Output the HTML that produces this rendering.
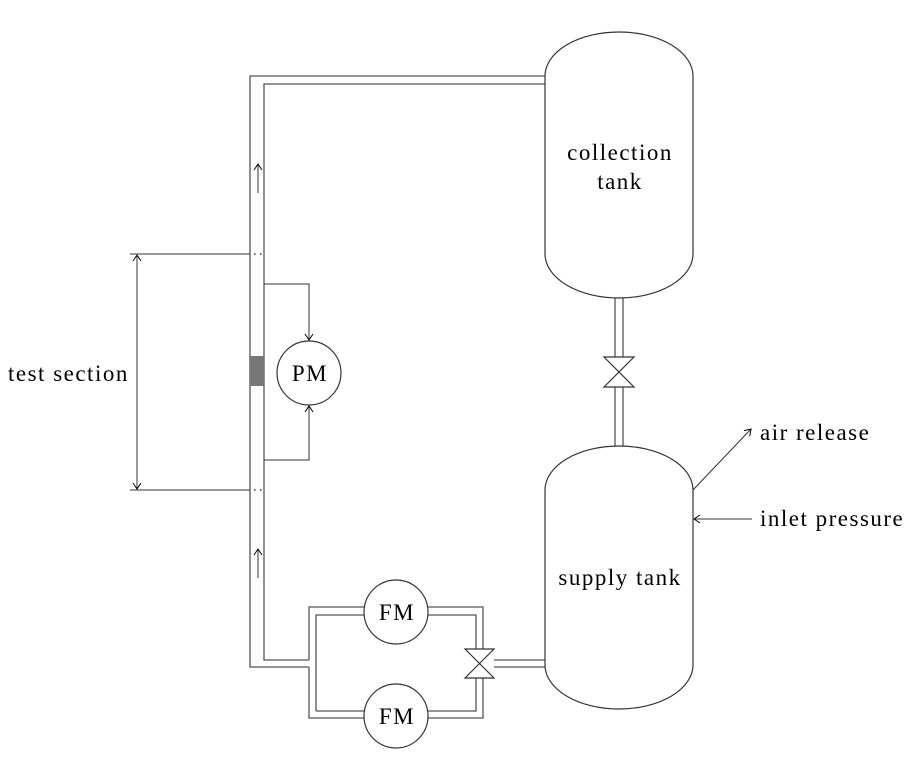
<!DOCTYPE html>
<html><head><meta charset="utf-8"><style>body{margin:0;background:#fff}svg{display:block}text{font-family:"Liberation Serif",serif;font-size:23px;letter-spacing:1.5px;fill:#000}</style></head>
<body>
<svg width="918" height="763" viewBox="0 0 918 763" xmlns="http://www.w3.org/2000/svg">
<defs><marker id="a" markerWidth="10" markerHeight="10" refX="8" refY="5" orient="auto" markerUnits="userSpaceOnUse"><path d="M2,1 L8,5 L2,9" fill="none" stroke="#000" stroke-width="1"/></marker></defs>
<g fill="none" stroke="#555" stroke-width="1.3">
<path d="M545,76 H250 V667 H309"/>
<path d="M545,84 H264 V660 H309"/>
<path d="M309,667 V718 H364 M428,718 H483 V678"/>
<path d="M309,660 V607 H364 M428,607 H483 V649"/>
<path d="M316,711 V615 H364 M428,615 H476 V649 M476,678 V711 H428 M364,711 H316"/>
<path d="M494,660 H545 M494,667 H545"/>
<path d="M615,297 V357 M623,297 V357 M615,387 V446 M623,387 V446"/>
</g>
<g fill="#fff" stroke="#333" stroke-width="1.2">
<path d="M545,76 A74,44 0 0 1 693,76 V254 A74,44 0 0 1 545,254 Z"/>
<path d="M545,490 A74,44 0 0 1 693,490 V665 A74,44 0 0 1 545,665 Z"/>
<circle cx="396" cy="612" r="32"/>
<circle cx="396" cy="716" r="32"/>
<circle cx="309" cy="373" r="32"/>
<path d="M465,649 H494 L465,678 H494 Z"/>
<path d="M604,357 H634 L604,387 H634 Z"/>
</g>
<rect x="250" y="356" width="14" height="30" fill="#777"/>
<g fill="none" stroke="#333" stroke-width="1">
<path d="M264,284 H309 V340" marker-end="url(#a)"/>
<path d="M264,460 H309 V406" marker-end="url(#a)"/>
<path d="M130,254 H250 M130,490 H250"/>
<path d="M137,490 V255" marker-end="url(#a)"/>
<path d="M137,254 V489" marker-end="url(#a)"/>
<path d="M258,193 V164" marker-end="url(#a)"/>
<path d="M258,578 V549" marker-end="url(#a)"/>
<path d="M693,490 L751,429" marker-end="url(#a)"/>
<path d="M752,519 H694" marker-end="url(#a)"/>
<path d="M254,254 h1.5 M260,254 h1.5 M254,490 h1.5 M260,490 h1.5" stroke-width="1.5"/>
</g>
<text x="620" y="160" text-anchor="middle">collection</text>
<text x="620" y="189" text-anchor="middle">tank</text>
<text x="620" y="585" text-anchor="middle">supply tank</text>
<text x="397" y="620" text-anchor="middle">FM</text>
<text x="397" y="724" text-anchor="middle">FM</text>
<text x="310" y="381" text-anchor="middle">PM</text>
<text x="8" y="381">test section</text>
<text x="760" y="440">air release</text>
<text x="760" y="526">inlet pressure</text>
</svg>
</body></html>
